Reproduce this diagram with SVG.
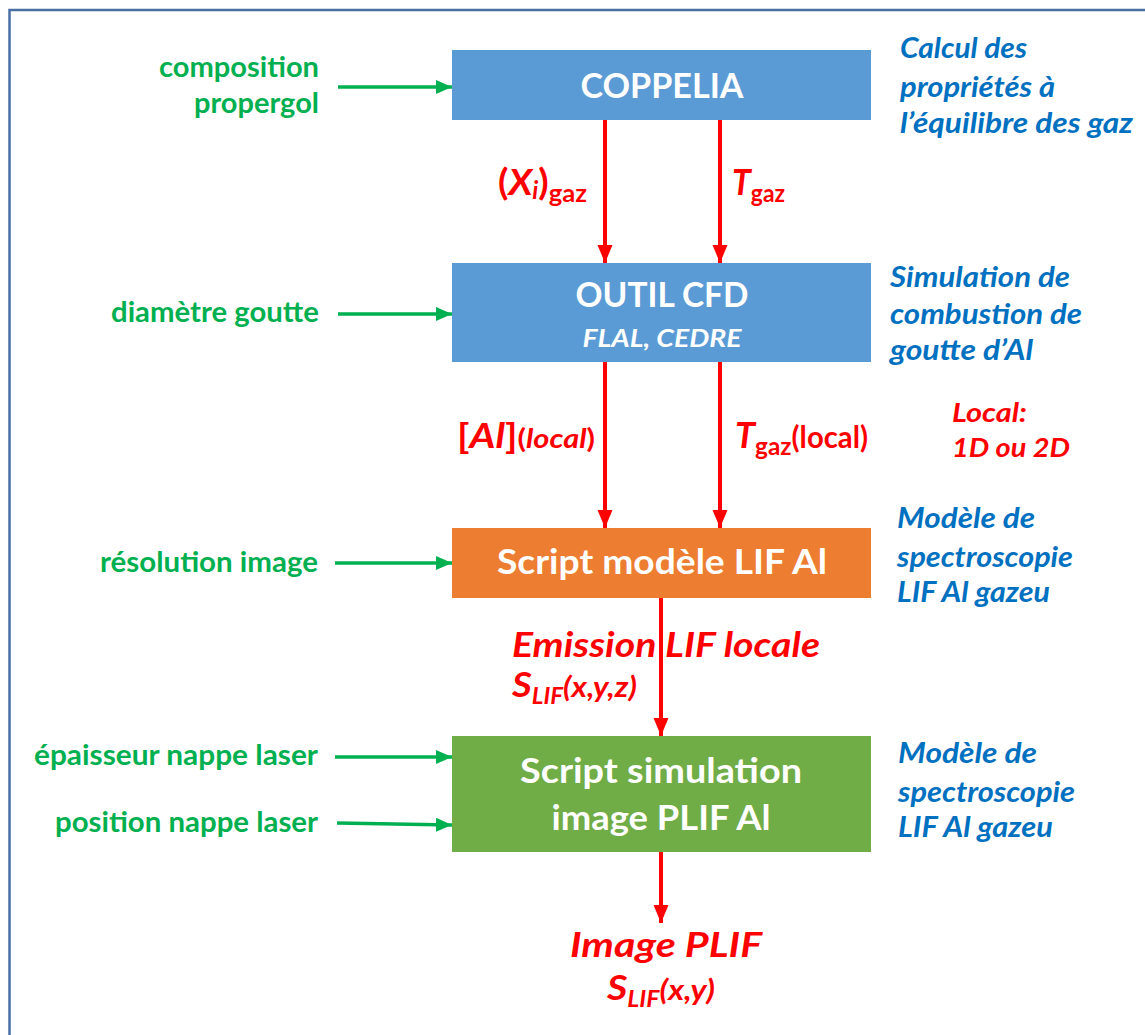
<svg xmlns="http://www.w3.org/2000/svg" width="1145" height="1035" viewBox="0 0 1145 1035">
<defs>
<style>
text{font-family:Lato,"Open Sans","Liberation Sans",sans-serif;font-weight:700}
.g{fill:#00B050;font-size:29px;text-anchor:end}
.b{fill:#0070C0;font-size:28px;font-style:italic}
.r{fill:#FF0000}
.w{fill:#FFFFFF;text-anchor:middle}
.it{font-style:italic}
.red{stroke:#FF0000;stroke-width:4;fill:none}
.grn{stroke:#00B050;stroke-width:3.5;fill:none}
</style>
<marker id="ar" markerUnits="userSpaceOnUse" markerWidth="18" markerHeight="16" refX="18" refY="7.5" orient="auto"><path d="M0,0 L18,7.5 L0,15 z" fill="#FF0000"/></marker>
<marker id="ag" markerUnits="userSpaceOnUse" markerWidth="16" markerHeight="16" refX="16" refY="7" orient="auto"><path d="M0,0 L16,7 L0,14 z" fill="#00B050"/></marker>
</defs>
<rect x="0" y="0" width="1145" height="1035" fill="#FFFFFF"/>
<rect x="9.5" y="10" width="1200" height="1100" fill="none" stroke="#4A6FA5" stroke-width="2.5"/>

<g id="connectors">
<line class="grn" x1="338" y1="87" x2="452" y2="87" marker-end="url(#ag)"/>
<line class="grn" x1="338" y1="314" x2="452" y2="314" marker-end="url(#ag)"/>
<line class="grn" x1="335" y1="563" x2="452" y2="563" marker-end="url(#ag)"/>
<line class="grn" x1="335" y1="757" x2="452" y2="757" marker-end="url(#ag)"/>
<line class="grn" x1="337" y1="823" x2="452" y2="825" marker-end="url(#ag)"/>
<line class="red" x1="605" y1="120" x2="605" y2="263" marker-end="url(#ar)"/>
<line class="red" x1="720" y1="120" x2="720" y2="263" marker-end="url(#ar)"/>
<line class="red" x1="605" y1="362" x2="605" y2="528" marker-end="url(#ar)"/>
<line class="red" x1="720" y1="362" x2="720" y2="528" marker-end="url(#ar)"/>
<line class="red" x1="661" y1="598" x2="661" y2="736" marker-end="url(#ar)"/>
<line class="red" x1="661" y1="852" x2="661" y2="923" marker-end="url(#ar)"/>
</g>

<g id="coppelia">
<rect x="452" y="50" width="419" height="70" fill="#5B9BD5"/>
<text class="w" x="662" y="98" font-size="35" textLength="163" lengthAdjust="spacingAndGlyphs">COPPELIA</text>
</g>
<g id="outil-cfd">
<rect x="452" y="263" width="419" height="99" fill="#5B9BD5"/>
<text class="w" x="662" y="307" font-size="35" textLength="173" lengthAdjust="spacingAndGlyphs">OUTIL CFD</text>
<text class="w it" x="662" y="347" font-size="25" textLength="159" lengthAdjust="spacingAndGlyphs">FLAL, CEDRE</text>
</g>
<g id="script-lif">
<rect x="452" y="528" width="419" height="70" fill="#ED7D31"/>
<text class="w" x="662" y="574" font-size="34" textLength="330" lengthAdjust="spacingAndGlyphs">Script modèle LIF Al</text>
</g>
<g id="script-plif">
<rect x="452" y="736" width="419" height="116" fill="#70AD47"/>
<text class="w" x="661" y="783" font-size="34" textLength="282" lengthAdjust="spacingAndGlyphs">Script simulation</text>
<text class="w" x="661" y="830" font-size="34" textLength="219" lengthAdjust="spacingAndGlyphs">image PLIF Al</text>
</g>

<g id="inputs">
<text class="g" x="319" y="77" textLength="160" lengthAdjust="spacingAndGlyphs">composition</text>
<text class="g" x="319" y="113" textLength="125" lengthAdjust="spacingAndGlyphs">propergol</text>
<text class="g" x="319" y="322" textLength="208" lengthAdjust="spacingAndGlyphs">diamètre goutte</text>
<text class="g" x="318" y="572" textLength="218" lengthAdjust="spacingAndGlyphs">résolution image</text>
<text class="g" x="318" y="765" textLength="284" lengthAdjust="spacingAndGlyphs">épaisseur nappe laser</text>
<text class="g" x="318" y="832" textLength="263" lengthAdjust="spacingAndGlyphs">position nappe laser</text>
</g>

<g id="descriptions">
<text class="b" x="900" y="58" textLength="127" lengthAdjust="spacingAndGlyphs">Calcul des</text>
<text class="b" x="900" y="97" textLength="155" lengthAdjust="spacingAndGlyphs">propriétés à</text>
<text class="b" x="900" y="133" textLength="233" lengthAdjust="spacingAndGlyphs">l’équilibre des gaz</text>
<text class="b" x="890" y="287" textLength="180" lengthAdjust="spacingAndGlyphs">Simulation de</text>
<text class="b" x="890" y="324" textLength="192" lengthAdjust="spacingAndGlyphs">combustion de</text>
<text class="b" x="890" y="360" textLength="143" lengthAdjust="spacingAndGlyphs">goutte d’Al</text>
<text class="b" x="897" y="528" textLength="138" lengthAdjust="spacingAndGlyphs">Modèle de</text>
<text class="b" x="897" y="567" textLength="176" lengthAdjust="spacingAndGlyphs">spectroscopie</text>
<text class="b" x="897" y="602" textLength="153" lengthAdjust="spacingAndGlyphs">LIF Al gazeu</text>
<text class="b" x="898" y="763" textLength="139" lengthAdjust="spacingAndGlyphs">Modèle de</text>
<text class="b" x="898" y="802" textLength="177" lengthAdjust="spacingAndGlyphs">spectroscopie</text>
<text class="b" x="898" y="837" textLength="155" lengthAdjust="spacingAndGlyphs">LIF Al gazeu</text>
<text class="r it" x="952" y="422" font-size="27" textLength="75" lengthAdjust="spacingAndGlyphs">Local:</text>
<text class="r it" x="952" y="457" font-size="27" textLength="118" lengthAdjust="spacingAndGlyphs">1D ou 2D</text>
</g>

<g id="flow-labels">
<text class="r" x="498" y="195" font-size="37" textLength="89" lengthAdjust="spacingAndGlyphs">(<tspan class="it">X</tspan><tspan class="it" font-size="24" dy="4">i</tspan><tspan dy="-4">)</tspan><tspan font-size="25" dy="7">gaz</tspan></text>
<text class="r" x="732" y="195" font-size="37" textLength="53" lengthAdjust="spacingAndGlyphs"><tspan class="it">T</tspan><tspan font-size="25" dy="7">gaz</tspan></text>
<text class="r" x="457" y="448" font-size="35" textLength="138" lengthAdjust="spacingAndGlyphs">[<tspan class="it">Al</tspan>]<tspan font-size="27">(<tspan class="it">local</tspan>)</tspan></text>
<text class="r" x="735" y="448" font-size="37" textLength="133" lengthAdjust="spacingAndGlyphs"><tspan class="it">T</tspan><tspan font-size="25" dy="7">gaz</tspan><tspan font-size="30" dy="-7">(local)</tspan></text>
<text class="r it" x="512" y="657" font-size="34" textLength="308" lengthAdjust="spacingAndGlyphs">Emission LIF locale</text>
<text class="r it" x="512" y="697" font-size="35" textLength="125" lengthAdjust="spacingAndGlyphs">S<tspan font-size="22" dy="7">LIF</tspan><tspan font-size="29" dy="-7">(x,y,z)</tspan></text>
<text class="r it" x="666" y="957" font-size="34" text-anchor="middle" textLength="192" lengthAdjust="spacingAndGlyphs">Image PLIF</text>
<text class="r it" x="607" y="1000" font-size="35" textLength="108" lengthAdjust="spacingAndGlyphs">S<tspan font-size="22" dy="7">LIF</tspan><tspan font-size="29" dy="-7">(x,y)</tspan></text>
</g>
</svg>
